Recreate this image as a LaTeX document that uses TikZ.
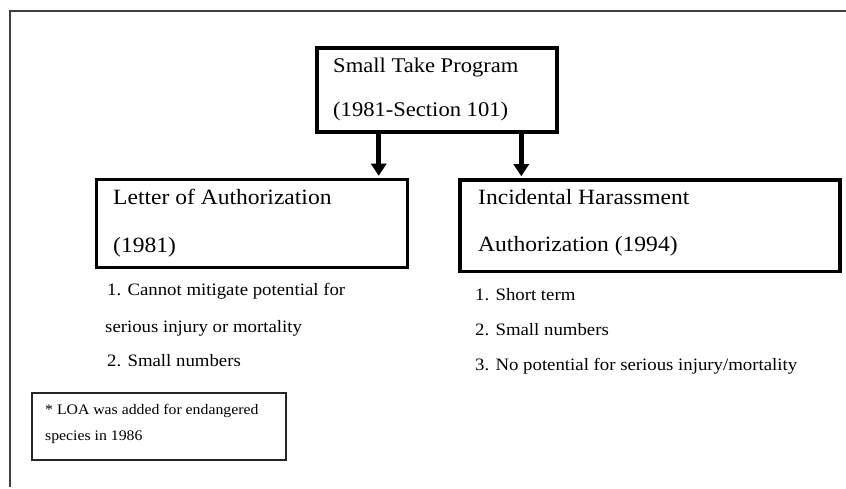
\documentclass[tikz,border=0pt]{standalone}
\usepackage{fontspec}
\setmainfont{Liberation Serif}[FakeStretch=1.08]
\usetikzlibrary{arrows.meta}
\begin{document}
\begin{tikzpicture}[x=1pt,y=-1pt,
  heavybox/.style={draw=black,line width=4pt,inner sep=0pt},
  boxline/.style={draw=black,line width=3.5pt,inner sep=0pt},
  notebox/.style={draw=black!85,line width=2pt,inner sep=0pt},
  txt/.style={anchor=base west,inner sep=0pt,text=black},
  headtxt/.style={txt,font=\fontsize{20.9}{24}\selectfont},
  boxtxt/.style={txt,font=\fontsize{21.8}{25}\selectfont},
  listtxt/.style={txt,font=\fontsize{17.4}{20}\selectfont},
  notetxt/.style={txt,font=\fontsize{14.6}{17}\selectfont},
  flow/.style={line width=4.5pt,-{Triangle[width=15pt,length=12pt]},shorten >=2pt}]
\useasboundingbox (0,0) rectangle (846,489);
% page frame: top rule and left rule only
\draw[line width=2pt,black!75] (9.7,487) -- (9.7,11.3) -- (846,11.3);

% top box
\node[heavybox,minimum width=240pt,minimum height=84pt] (stp) at (437,90) {};
\node[headtxt] (stp1) at (333,73) {Small Take Program};
\node[headtxt] (stp2) at (333,117) {(1981-Section 101)};

% left box
\node[boxline,minimum width=311pt,minimum height=88pt] (loa) at (252,223.5) {};
\node[boxtxt] (loa1) at (113,205) {Letter of Authorization};
\node[boxtxt] (loa2) at (113,252) {(1981)};

% right box
\node[boxline,minimum width=380pt,minimum height=91.5pt] (iha) at (650,225.75) {};
\node[boxtxt] (iha1) at (478,205) {Incidental Harassment};
\node[boxtxt] (iha2) at (478,251.5) {Authorization (1994)};

% arrows
\coordinate (aL) at (378.7,0);
\coordinate (aR) at (521.3,0);
\draw[flow] (stp.south -| aL) -- (loa.north -| aL);
\draw[flow] (stp.south -| aR) -- (iha.north -| aR);

% left list
\node[listtxt] (l1) at (107,295) {1. Cannot mitigate potential for};
\node[listtxt] (l2) at (105,332.5) {serious injury or mortality};
\node[listtxt] (l3) at (107,366.5) {2. Small numbers};

% right list
\node[listtxt] (r1) at (475,300) {1. Short term};
\node[listtxt] (r2) at (475,335) {2. Small numbers};
\node[listtxt] (r3) at (475,370) {3. No potential for serious injury/mortality};

% note box
\node[notebox,minimum width=254.5pt,minimum height=67.5pt] (note) at (159,426.5) {};
\node[notetxt] (n1) at (45,414) {* LOA was added for endangered};
\node[notetxt] (n2) at (45,440) {species in 1986};
\end{tikzpicture}
\end{document}
